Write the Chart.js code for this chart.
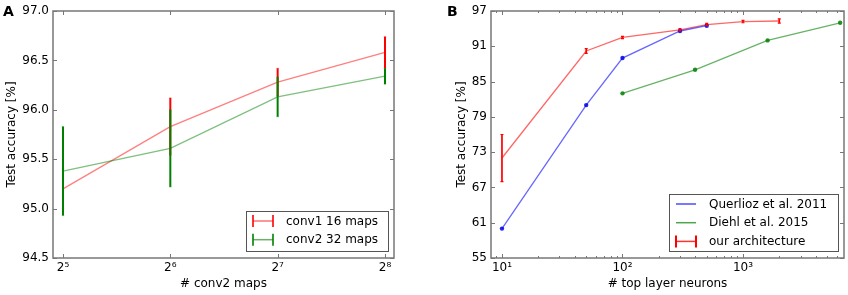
<!DOCTYPE html>
<html>
<head>
<meta charset="utf-8">
<script src="https://cdn.jsdelivr.net/npm/chart.js@4/dist/chart.umd.min.js"></script>
<style>
  body { margin: 0; background: #fff; }
  #wrap { position: relative; width: 848px; height: 295px; }
  canvas { position: absolute; top: 0; }
</style>
</head>
<body>
<div id="wrap">
  <canvas id="panelA" width="424" height="295" style="left:0"></canvas>
  <canvas id="panelB" width="424" height="295" style="left:424px"></canvas>
</div>
<script>
// ---- panel A: accuracy vs number of conv2 maps
const mapCounts = [32, 64, 128, 256];
const mapLabels = ['2⁵', '2⁶', '2⁷', '2⁸'];
const conv1Acc = [95.20, 95.83, 96.28, 96.58];
const conv1Err = [0.20, 0.29, 0.14, 0.16];
const conv2Acc = [95.38, 95.61, 96.13, 96.34];
const conv2Err = [0.45, 0.39, 0.20, 0.08];
const accTicksA = [94.5, 95.0, 95.5, 96.0, 96.5, 97.0];

// ---- panel B: accuracy vs top layer neurons
const querliozN = [10, 50, 100, 300, 500];
const querliozAcc = [60.0, 81.0, 89.0, 93.6, 94.5];
const diehlN = [100, 400, 1600, 6400];
const diehlAcc = [83.0, 87.0, 92.0, 95.0];
const oursN = [10, 50, 100, 300, 500, 1000, 2000];
const oursAcc = [72.0, 90.2, 92.5, 93.8, 94.7, 95.2, 95.3];
const oursErr = [4.0, 0.4, 0.2, 0.2, 0.2, 0.2, 0.35];
const accTicksB = [55, 61, 67, 73, 79, 85, 91, 97];
const neuronDecades = [10, 100, 1000];
const neuronLabels = ['10¹', '10²', '10³'];

Chart.defaults.font.family = '"DejaVu Sans", sans-serif';
Chart.defaults.font.size = 12;
Chart.defaults.color = '#000';

const pts = (xs, ys) => xs.map((x, i) => ({x: x, y: ys[i]}));

// error bars drawn through the chart scales
function errorBars(sets) {
  return {
    id: 'errorBars',
    afterDatasetsDraw(chart) {
      const ctx = chart.ctx, xs = chart.scales.x, ys = chart.scales.y;
      sets.forEach(s => {
        ctx.save();
        s.x.forEach((xv, i) => {
          const px = xs.getPixelForValue(xv);
          const top = ys.getPixelForValue(s.y[i] + s.err[i]);
          const bot = ys.getPixelForValue(s.y[i] - s.err[i]);
          ctx.strokeStyle = s.color;
          ctx.lineWidth = s.width;
          ctx.beginPath();
          ctx.moveTo(px, top); ctx.lineTo(px, bot);
          ctx.stroke();
          ctx.strokeStyle = s.capColor;
          ctx.lineWidth = 1.2;
          ctx.beginPath();
          ctx.moveTo(px - s.cap, top); ctx.lineTo(px + s.cap, top);
          ctx.moveTo(px - s.cap, bot); ctx.lineTo(px + s.cap, bot);
          ctx.stroke();
        });
        ctx.restore();
      });
    }
  };
}

// box + inward ticks on all four sides, like matplotlib
function frame(isMajor, letter, letterX) {
  return {
    id: 'frame',
    afterDraw(chart) {
      const ctx = chart.ctx, a = chart.chartArea;
      const xs = chart.scales.x, ys = chart.scales.y;
      ctx.save();
      ctx.strokeStyle = '#777';
      ctx.lineWidth = 1;
      ctx.beginPath();
      xs.ticks.forEach(t => {
        const px = Math.round(xs.getPixelForValue(t.value)) + 0.5;
        if (px < a.left || px > a.right) return;
        const len = isMajor(t.value) ? 4 : 2;
        ctx.moveTo(px, a.bottom); ctx.lineTo(px, a.bottom - len);
        ctx.moveTo(px, a.top); ctx.lineTo(px, a.top + len);
      });
      ys.ticks.forEach(t => {
        const py = Math.round(ys.getPixelForValue(t.value)) + 0.5;
        ctx.moveTo(a.left, py); ctx.lineTo(a.left + 4, py);
        ctx.moveTo(a.right, py); ctx.lineTo(a.right - 4, py);
      });
      ctx.stroke();
      ctx.lineWidth = 1.5;
      ctx.strokeRect(a.left, a.top, a.right - a.left, a.bottom - a.top);
      ctx.fillStyle = '#000';
      ctx.font = 'bold 14px "DejaVu Sans"';
      ctx.textBaseline = 'alphabetic';
      ctx.fillText(letter, letterX, 15.5);
      ctx.restore();
    }
  };
}

// legend box inside the lower right corner
function legendBox(items, w, h) {
  return {
    id: 'legendBox',
    afterDraw(chart) {
      const ctx = chart.ctx, a = chart.chartArea;
      const left = a.right - 6 - w, top = a.bottom - 7 - h;
      ctx.save();
      ctx.fillStyle = '#fff';
      ctx.fillRect(left, top, w, h);
      ctx.strokeStyle = '#555';
      ctx.lineWidth = 1;
      ctx.strokeRect(Math.round(left) + 0.5, Math.round(top) + 0.5, w, h);
      items.forEach((it, i) => {
        const cy = top + 10 + i * 18.7;
        const x0 = left + 7, x1 = left + 27;
        ctx.lineWidth = 1.5;
        ctx.strokeStyle = it.line;
        ctx.beginPath(); ctx.moveTo(x0, cy); ctx.lineTo(x1, cy); ctx.stroke();
        if (it.cap) {
          ctx.strokeStyle = it.cap;
          ctx.lineWidth = 2;
          ctx.beginPath();
          ctx.moveTo(x0, cy - 6); ctx.lineTo(x0, cy + 6);
          ctx.moveTo(x1, cy - 6); ctx.lineTo(x1, cy + 6);
          ctx.stroke();
        }
        ctx.fillStyle = '#000';
        ctx.font = '12px "DejaVu Sans"';
        ctx.textBaseline = 'middle';
        ctx.fillText(it.label, left + 40, cy + 0.5);
      });
      ctx.restore();
    }
  };
}

const noGrid = {display: false, drawTicks: false};

// ---------------- panel A
new Chart(document.getElementById('panelA'), {
  type: 'line',
  data: {
    datasets: [
      {label: 'conv1 16 maps', data: pts(mapCounts, conv1Acc), borderColor: 'rgba(255,0,0,0.5)',
       borderWidth: 1.3, pointRadius: 0, fill: false, order: 2},
      {label: 'conv2 32 maps', data: pts(mapCounts, conv2Acc), borderColor: 'rgba(0,128,0,0.5)',
       borderWidth: 1.3, pointRadius: 0, fill: false, order: 1}
    ]
  },
  options: {
    responsive: false,
    animation: false,
    layout: {padding: {left: 0, right: 30, top: 11, bottom: 0}},
    plugins: {legend: {display: false}, tooltip: {enabled: false}},
    scales: {
      x: {
        type: 'logarithmic',
        min: Math.pow(2, 4.907),
        max: Math.pow(2, 8.084),
        grid: noGrid,
        border: {display: false},
        afterBuildTicks: s => { s.ticks = mapCounts.map(v => ({value: v})); },
        ticks: {autoSkip: false, maxRotation: 0, padding: 3,
                callback: (v, i) => mapLabels[i]},
        title: {display: true, text: '# conv2 maps', padding: {top: 0, bottom: 4}},
        afterFit: s => { s.height = 37; s.paddingLeft = 0; s.paddingRight = 0; }
      },
      y: {
        min: 94.5,
        max: 97.0,
        grid: noGrid,
        border: {display: false},
        afterBuildTicks: s => { s.ticks = accTicksA.map(v => ({value: v})); },
        ticks: {padding: 4, callback: v => v.toFixed(1)},
        title: {display: true, text: 'Test accuracy [%]', padding: {top: 5, bottom: 0}},
        afterFit: s => { s.width = 53; s.paddingTop = 0; s.paddingBottom = 0; }
      }
    }
  },
  plugins: [
    errorBars([
      {x: mapCounts, y: conv1Acc, err: conv1Err, color: '#ff0000', width: 2, cap: 1.2, capColor: 'rgba(255,0,0,0.35)'},
      {x: mapCounts, y: conv2Acc, err: conv2Err, color: '#008000', width: 2, cap: 1.2, capColor: 'rgba(0,128,0,0.35)'}
    ]),
    frame(() => true, 'A', 3),
    legendBox([
      {label: 'conv1 16 maps', line: 'rgba(255,0,0,0.55)', cap: 'rgba(255,0,0,0.8)'},
      {label: 'conv2 32 maps', line: 'rgba(0,128,0,0.6)', cap: 'rgba(0,128,0,0.8)'}
    ], 142, 40)
  ]
});

// ---------------- panel B
const neuronTicks = [];
[1, 10, 100, 1000].forEach(d => {
  for (let k = 1; k <= 9; k++) neuronTicks.push(d * k);
});

new Chart(document.getElementById('panelB'), {
  type: 'line',
  data: {
    datasets: [
      {label: 'Querlioz et al. 2011', data: pts(querliozN, querliozAcc), borderColor: 'rgba(0,0,255,0.6)',
       borderWidth: 1.3, pointRadius: 2.2, pointBackgroundColor: 'rgba(0,0,230,0.85)', pointBorderWidth: 0, fill: false},
      {label: 'Diehl et al. 2015', data: pts(diehlN, diehlAcc), borderColor: 'rgba(0,128,0,0.6)',
       borderWidth: 1.3, pointRadius: 2.2, pointBackgroundColor: 'rgba(0,128,0,0.85)', pointBorderWidth: 0, fill: false},
      {label: 'our architecture', data: pts(oursN, oursAcc), borderColor: 'rgba(255,0,0,0.6)',
       borderWidth: 1.3, pointRadius: 0, fill: false}
    ]
  },
  options: {
    responsive: false,
    animation: false,
    layout: {padding: {left: 0, right: 4, top: 11, bottom: 0}},
    plugins: {legend: {display: false}, tooltip: {enabled: false}},
    scales: {
      x: {
        type: 'logarithmic',
        min: Math.pow(10, 0.909),
        max: Math.pow(10, 3.838),
        grid: noGrid,
        border: {display: false},
        afterBuildTicks: s => { s.ticks = neuronTicks.map(v => ({value: v})); },
        ticks: {autoSkip: false, maxRotation: 0, padding: 3,
                callback: v => {
                  const i = neuronDecades.indexOf(v);
                  return i >= 0 ? neuronLabels[i] : '';
                }},
        title: {display: true, text: '# top layer neurons', padding: {top: 0, bottom: 4}},
        afterFit: s => { s.height = 37; s.paddingLeft = 0; s.paddingRight = 0; }
      },
      y: {
        min: 55,
        max: 97,
        grid: noGrid,
        border: {display: false},
        afterBuildTicks: s => { s.ticks = accTicksB.map(v => ({value: v})); },
        ticks: {padding: 4},
        title: {display: true, text: 'Test accuracy [%]', padding: {top: 31, bottom: 0}},
        afterFit: s => { s.width = 67; s.paddingTop = 0; s.paddingBottom = 0; }
      }
    }
  },
  plugins: [
    errorBars([
      {x: oursN, y: oursAcc, err: oursErr, color: '#ff0000', width: 1.7, cap: 1.5, capColor: '#ff0000'}
    ]),
    frame(v => neuronDecades.indexOf(v) >= 0, 'B', 23),
    legendBox([
      {label: 'Querlioz et al. 2011', line: 'rgba(0,0,255,0.7)'},
      {label: 'Diehl et al. 2015', line: 'rgba(0,128,0,0.7)'},
      {label: 'our architecture', line: 'rgba(255,0,0,0.8)', cap: '#ff0000'}
    ], 169, 57)
  ]
});
</script>
</body>
</html>
